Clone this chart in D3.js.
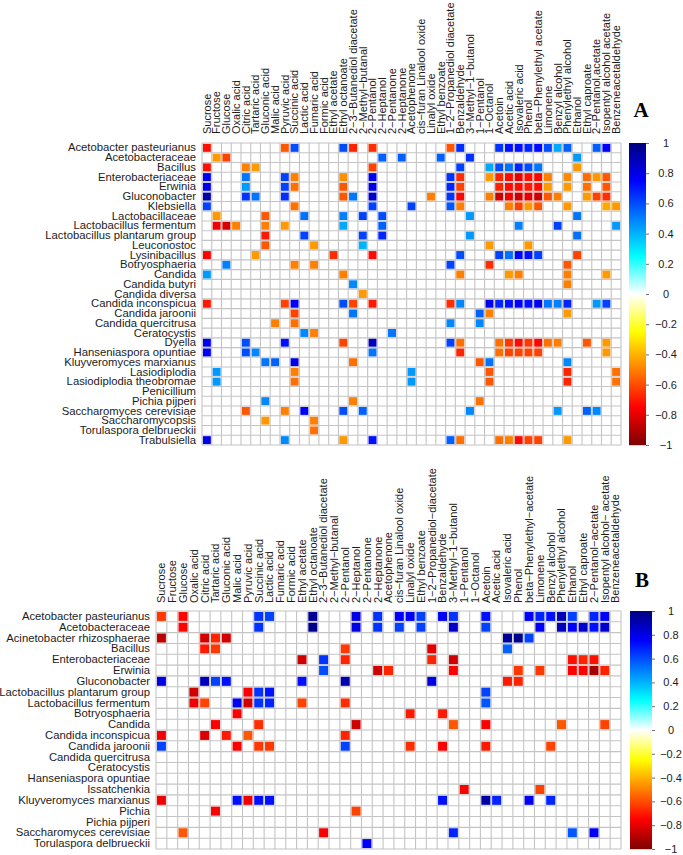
<!DOCTYPE html>
<html><head><meta charset="utf-8">
<script src="https://cdn.jsdelivr.net/npm/d3@7"></script>
<style>
html,body{margin:0;padding:0;background:#fff}
text{font-family:"Liberation Sans",Arial,sans-serif;fill:#1c1c1c}
</style></head><body>
<svg id="c" width="683" height="855"></svg>
<script>
const colsA=["Sucrose","Fructose","Glucose","Oxalic acid","Citric acid","Tartaric acid","Gluconic acid","Malic acid","Pyruvic acid","Succinic acid","Lactic acid","Fumaric acid","Formic acid","Ethyl acetate","Ethyl octanoate","2−3−Butanediol diacetate","2−Methyl−butanal","2−Pentanol","2−Heptanol","2−Pentanone","2−Heptanone","Acetophenone","cis−furan Linalool oxide","Linalyl oxide","Ethyl benzoate","1−2−Propanediol diacetate","Benzaldehyde","3−Methyl−1−butanol","1−Pentanol","1−Octanol","Acetoin","Acetic acid","Isovaleric acid","Phenol","beta−Phenylethyl acetate","Limonene","Benzyl alcohol","Phenylethyl alcohol","Ethanol","Ethyl caproate","2−Pentanol,acetate","Isopentyl alcohol acetate","Benzeneacetaldehyde"];
const colsB=["Sucrose","Fructose","Glucose","Oxalic acid","Citric acid","Tartaric acid","Gluconic acid","Malic acid","Pyruvic acid","Succinic acid","Lactic acid","Fumaric acid","Formic acid","Ethyl acetate","Ethyl octanoate","2−3−Butanediol diacetate","2−Methyl−butanal","2−Pentanol","2−Heptanol","2−Pentanone","2−Heptanone","Acetophenone","cis−furan Linalool oxide","Linalyl oxide","Ethyl benzoate","1−2−Propanediol−diacetate","Benzaldehyde","3−Methyl−1−butanol","1−Pentanol","1−Octanol","Acetoin","Acetic acid","Isovaleric acid","Phenol","beta−Phenylethyl−acetate","Limonene","Benzyl alcohol","Phenylethyl alcohol","Ethanol","Ethyl caproate","2−Pentanol−acetate","Isopentyl alcohol− acetate","Benzeneacetaldehyde"];
const rowsA=["Acetobacter pasteurianus","Acetobacteraceae","Bacillus","Enterobacteriaceae","Erwinia","Gluconobacter","Klebsiella","Lactobacillaceae","Lactobacillus fermentum","Lactobacillus plantarum group","Leuconostoc","Lysinibacillus","Botryosphaeria","Candida","Candida butyri","Candida diversa","Candida inconspicua","Candida jaroonii","Candida quercitrusa","Ceratocystis","Dyella","Hanseniaspora opuntiae","Kluyveromyces marxianus","Lasiodiplodia","Lasiodiplodia theobromae","Penicillium","Pichia pijperi","Saccharomyces cerevisiae","Saccharomycopsis","Torulaspora delbrueckii","Trabulsiella"];
const rowsB=["Acetobacter pasteurianus","Acetobacteraceae","Acinetobacter rhizosphaerae","Bacillus","Enterobacteriaceae","Erwinia","Gluconobacter","Lactobacillus plantarum group","Lactobacillus fermentum","Botryosphaeria","Candida","Candida inconspicua","Candida jaroonii","Candida quercitrusa","Ceratocystis","Hanseniaspora opuntiae","Issatchenkia","Kluyveromyces marxianus","Pichia","Pichia pijperi","Saccharomyces cerevisiae","Torulaspora delbrueckii"];
// each row: [column index, correlation] pairs
const valuesA=[
[[0,-.72],[8,-.58],[9,.6],[14,.6],[15,-.68],[17,-.66],[25,-.58],[26,.66],[30,.65],[31,.72],[32,.72],[33,.68],[34,.73],[35,.6],[36,.42],[37,.56],[40,.56],[41,.76]],
[[1,-.45],[2,-.62],[18,.56],[20,.56],[24,.56],[27,.66],[38,.45]],
[[0,-.72],[4,-.5],[5,-.45],[17,-.62],[26,.62],[29,.42],[30,.6],[31,.53],[32,.68],[33,.6],[34,.52],[38,-.45]],
[[0,.78],[4,.52],[8,.62],[9,-.5],[14,-.47],[17,.78],[25,.65],[26,-.66],[29,-.45],[30,-.68],[31,-.73],[32,-.79],[33,-.72],[34,-.74],[35,-.5],[37,-.48],[39,-.54],[40,-.45],[41,-.58]],
[[0,.8],[4,.45],[8,.62],[9,-.53],[14,-.58],[17,.8],[25,.68],[26,-.62],[30,-.68],[31,-.73],[32,-.73],[33,-.7],[34,-.73],[35,-.45],[37,-.45],[39,-.53],[41,-.58]],
[[0,.92],[4,.65],[5,.52],[8,.66],[14,-.58],[15,.52],[17,.85],[23,-.5],[25,.65],[26,-.74],[29,-.5],[30,-.85],[31,-.78],[32,-.85],[33,-.8],[34,-.85],[35,-.58],[36,-.5],[39,-.45],[40,-.62],[41,-.66]],
[[0,.62],[9,-.53],[17,.62],[21,.62],[25,.58],[26,-.5],[31,-.5],[32,-.62],[33,-.45],[34,-.58],[37,-.45],[41,-.42],[42,-.45]],
[[1,-.45],[6,-.58],[10,.53],[14,.5],[16,.62],[18,.6],[27,.45],[38,.52]],
[[1,-.78],[2,-.83],[3,-.5],[6,-.5],[8,-.45],[14,.42],[18,.56],[32,.5],[36,.62],[42,.45]],
[[6,-.7],[10,.62],[16,.62],[18,.68],[27,.45],[38,.53]],
[[6,-.58],[11,-.45],[16,.4],[29,-.45],[33,-.45]],
[[0,-.75],[5,-.45],[13,-.66],[17,-.73],[26,.6],[30,.62],[31,.53],[32,.75],[33,.72],[34,.62],[38,-.62]],
[[2,.5],[9,-.5],[11,-.5],[25,.62],[29,-.66],[37,-.58]],
[[0,.45],[14,-.5],[26,-.5],[31,-.45],[32,-.5],[37,-.5],[41,-.45]],
[[15,.48],[37,-.5]],
[[16,-.45]],
[[0,-.7],[8,-.62],[9,.76],[14,.6],[15,-.62],[17,-.7],[25,-.66],[26,.48],[29,.78],[30,.68],[31,.72],[32,.75],[33,.72],[34,.78],[35,.52],[36,.5],[37,.68],[40,.45],[41,.62]],
[[9,-.62],[15,.52],[28,.56],[29,-.5],[37,-.45]],
[[7,-.5],[9,-.53],[25,.48],[28,.48]],
[[10,.48],[11,-.5],[19,.52]],
[[0,.78],[4,.6],[8,.72],[14,-.62],[17,.88],[25,.62],[26,-.53],[30,-.53],[31,-.64],[32,-.73],[33,-.64],[34,-.74],[35,-.53],[36,-.5],[39,-.58],[41,-.45]],
[[0,.76],[4,.6],[5,.48],[17,.52],[26,-.68],[30,-.53],[31,-.62],[32,-.62],[33,-.62],[34,-.62],[41,-.45]],
[[6,.52],[7,.56],[9,.8],[15,-.53],[28,-.58],[29,.52],[37,.48]],
[[1,.45],[9,-.5],[21,.45],[29,-.58],[37,-.68],[42,-.53]],
[[1,.45],[9,-.53],[21,.45],[29,-.58],[37,-.68],[42,-.53]],
[],
[[6,.48],[15,-.5],[28,-.53]],
[[4,-.58],[8,-.5],[10,.76],[14,.6],[16,.56],[27,.48],[36,.45],[39,.56],[40,.48]],
[[6,-.45],[11,-.5]],
[[11,-.53]],
[[0,.8],[8,.48],[14,-.45],[17,.72],[25,.56],[26,-.53],[30,-.53],[31,-.5],[32,-.73],[33,-.62],[34,-.62],[37,-.45]]
];
const valuesB=[
[[0,-.64],[2,-.74],[9,.65],[10,.62],[14,.96],[18,.8],[20,.65],[22,.76],[23,.76],[24,.62],[26,.76],[27,.65],[30,.72],[34,.76],[35,.68],[36,.72],[37,.88],[38,.62],[40,.68],[41,.76]],
[[2,-.74],[9,.65],[14,.97],[18,.8],[20,.65],[22,.62],[24,.62],[27,.85],[30,.62],[35,.76],[37,.88],[38,.76],[39,.85],[40,.72],[41,.85]],
[[0,-.88],[4,-.84],[5,-.68],[6,-.84],[32,.95],[33,.97],[34,.62]],
[[4,-.7],[5,-.64],[17,-.64],[25,-.8],[32,.56]],
[[13,-.84],[15,.65],[17,-.68],[25,-.68],[27,-.84],[38,-.72],[39,-.68],[40,-.72]],
[[15,.6],[20,-.84],[21,-.68],[27,-.75],[33,-.64],[35,-.64],[38,-.75],[39,-.75],[40,-.92],[41,-.68]],
[[0,.8],[4,.88],[5,.62],[6,.72],[13,.72],[17,.9],[25,.8],[32,-.7],[33,-.68]],
[[3,-.84],[8,-.75],[9,.65],[10,.72],[30,.62]],
[[3,-.78],[4,-.62],[7,.78],[8,-.84],[9,.65],[10,.68],[13,-.62],[17,-.66],[30,.58]],
[[7,-.75],[23,-.7],[26,-.7]],
[[5,-.75],[9,-.66],[18,-.84],[27,-.58],[30,-.75],[37,-.58],[41,-.62]],
[[0,-.78],[4,-.82],[6,-.7],[8,-.58],[17,-.68]],
[[0,.62],[7,-.75],[9,-.64],[10,-.64],[17,.62],[23,-.66],[26,-.75],[30,-.7],[36,-.62]],
[],
[],
[],
[[28,-.75],[35,-.62]],
[[0,-.78],[7,.72],[8,-.78],[9,.72],[10,.72],[26,.72],[30,.92],[31,.68],[34,.78],[36,.68]],
[[5,-.75],[18,-.62]],
[],
[[2,-.58],[15,-.76],[27,.68],[38,.58],[40,.76]],
[[19,.76]]
];
const rampColors=["#7F0000","#FF0000","#FF7F00","#FFFF00","#FFFFFF","#00FFFF","#007FFF","#0000FF","#00007F"];
const barTicks=[-1,-.8,-.6,-.4,-.2,0,.2,.4,.6,.8,1];

const color=d3.scaleLinear().domain(d3.range(9).map(i=>-1+i*.25)).range(rampColors);
const svg=d3.select("#c");
const fmt=v=>String(v).replace("-","−");

function panel(o){
  const x=d3.scaleBand().domain(d3.range(o.cols.length)).range([o.left,o.right]);
  const y=d3.scaleBand().domain(d3.range(o.rows.length)).range([o.top,o.bottom]);
  const g=svg.append("g");
  const grid=g.append("g").attr("stroke","#c4c4c4").attr("stroke-width",1.1);
  grid.selectAll("line.v").data(d3.range(o.cols.length+1)).join("line")
    .attr("x1",d=>o.left+d*x.step()).attr("x2",d=>o.left+d*x.step()).attr("y1",o.top).attr("y2",o.bottom);
  grid.selectAll("line.h").data(d3.range(o.rows.length+1)).join("line")
    .attr("y1",d=>o.top+d*y.step()).attr("y2",d=>o.top+d*y.step()).attr("x1",o.left).attr("x2",o.right);
  const cells=o.values.flatMap((r,ri)=>r.map(([c,v])=>({r:ri,c,v})));
  g.selectAll("rect.cell").data(cells).join("rect").attr("class","cell")
    .attr("x",d=>x(d.c)+o.inset).attr("y",d=>y(d.r)+o.inset)
    .attr("width",x.bandwidth()-2*o.inset).attr("height",y.bandwidth()-2*o.inset)
    .attr("fill",d=>color(d.v));
  const ax=d3.axisLeft(y).tickSize(0).tickFormat(i=>o.rows[i]);
  const ag=g.append("g").attr("transform",`translate(${o.left-6},0)`).call(ax);
  ag.select(".domain").remove();
  ag.selectAll("text").attr("x",0).attr("dy",o.rowDy).attr("font-size",o.fs).style("font-family",'"Liberation Sans"');
  const at=d3.axisTop(x).tickSize(0).tickFormat(i=>o.cols[i]);
  const tg=g.append("g").attr("transform",`translate(0,${o.top-o.colGap})`).call(at);
  tg.select(".domain").remove();
  tg.selectAll("text").attr("transform","rotate(-90)").attr("text-anchor","start").attr("x",0).attr("y",0).attr("dy",o.colDy).attr("font-size",o.colFs).style("font-family",'"Liberation Sans"');
  const by=d3.scaleLinear().domain([-1,1]).range([o.bottom,o.top]);
  const bg=g.append("g");
  bg.selectAll("rect").data(d3.range(o.bottom-o.top)).join("rect")
    .attr("x",o.barL).attr("width",o.barR-o.barL).attr("y",d=>o.top+d).attr("height",1.2)
    .attr("fill",d=>color(by.invert(o.top+d+.5)));
  const bax=d3.axisRight(by).tickValues(barTicks).tickSize(3).tickFormat(fmt);
  const bag=bg.append("g").attr("transform",`translate(${o.barR},0)`).call(bax);
  bag.select(".domain").remove();
  bag.selectAll("line").attr("stroke","#333").attr("stroke-width",.7);
  bag.selectAll("text").attr("x",o.barText-o.barR).attr("text-anchor","middle").attr("font-size",o.colFs).style("font-family",'"Liberation Sans"');
  g.append("text").attr("x",o.tagX).attr("y",o.tagY).attr("text-anchor","middle")
    .attr("font-size",21).attr("font-weight","bold").style("font-family",'"Liberation Serif"').style("fill","#000").text(o.tag);
}
panel({cols:colsA,rows:rowsA,values:valuesA,left:202,right:621,top:143,bottom:445,inset:.9,fs:11.3,colFs:11,rowDy:"0.32em",colDy:"0.35em",colGap:9,barL:629,barR:646,barText:666,tag:"A",tagX:641,tagY:117});
panel({cols:colsB,rows:rowsB,values:valuesB,left:156,right:621,top:611,bottom:849,inset:.9,fs:11.3,colFs:11,rowDy:"0.32em",colDy:"0.35em",colGap:8,barL:630,barR:652,barText:671,tag:"B",tagX:642,tagY:587});
</script>
</body></html>
